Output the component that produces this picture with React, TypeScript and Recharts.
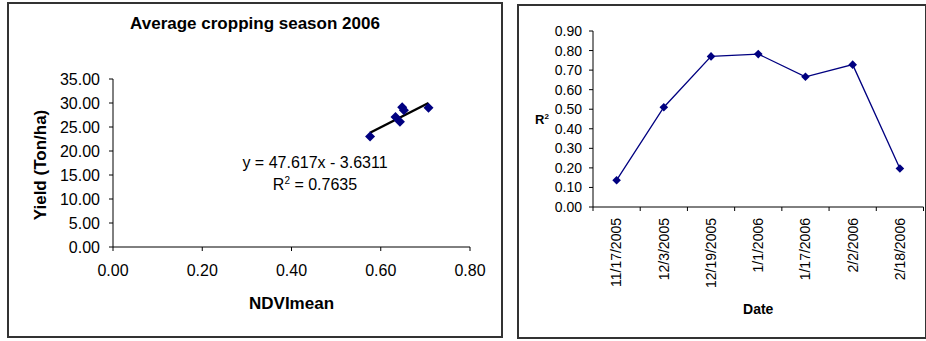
import { ScatterChart, Scatter, LineChart, Line, XAxis, YAxis, Label } from 'recharts';

// left panel: yield vs NDVI mean
const ndviMean = [0.576, 0.633, 0.643, 0.648, 0.652, 0.707];
const yieldTonHa = [23.0, 27.1, 26.1, 29.1, 28.5, 29.0];
const trendNdvi = [0.576, 0.707];
const trendYield = [23.8, 30.0];
const yieldTicks = [0, 5, 10, 15, 20, 25, 30, 35];
const ndviTicks = [0, 0.2, 0.4, 0.6, 0.8];

// right panel: R2 per image date
const dates = ['11/17/2005', '12/3/2005', '12/19/2005', '1/1/2006', '1/17/2006', '2/2/2006', '2/18/2006'];
const r2Values = [0.137, 0.51, 0.77, 0.782, 0.666, 0.728, 0.197];
const r2Ticks = [0, 0.1, 0.2, 0.3, 0.4, 0.5, 0.6, 0.7, 0.8, 0.9];

const NAVY = '#000080';
const FONT = "'Liberation Sans', Arial, sans-serif";

const scatterData = ndviMean.map((x, i) => ({ x, y: yieldTonHa[i] }));
const trendData = trendNdvi.map((x, i) => ({ x, y: trendYield[i] }));
const lineData = dates.map((date, i) => ({ slot: i + 0.5, date, r2: r2Values[i] }));
const slotBounds = dates.map((_, i) => i).concat(dates.length);

function diamond(cx: number, cy: number, r: number) {
  return `M${cx},${cy - r}L${cx + r},${cy}L${cx},${cy + r}L${cx - r},${cy}Z`;
}

function DateTick(props: any) {
  const { x, y, payload, width } = props;
  const idx = Math.round(payload.value);
  if (idx >= dates.length) return <g />;
  const w = typeof width === 'number' ? width : 330;
  const cx = x + w / (dates.length * 2);
  return (
    <text
      x={cx}
      y={y}
      dy="0.35em"
      textAnchor="end"
      fontSize={14}
      fill="#000"
      transform={`rotate(-90, ${cx}, ${y})`}
    >
      {dates[idx]}
    </text>
  );
}

const box = (left: number, top: number, width: number, height: number) => ({
  position: 'absolute' as const,
  left,
  top,
  width,
  height,
  boxSizing: 'border-box' as const,
  border: '2px solid #333',
});

export default function App() {
  return (
    <div
      style={{
        position: 'absolute',
        left: 0,
        top: 0,
        width: 926,
        height: 341,
        background: '#fff',
        fontFamily: FONT,
        color: '#000',
        overflow: 'hidden',
      }}
    >
      <div style={box(7, 2, 496, 336)} />
      <div style={box(517, 4, 410, 335)} />

      <div style={{ position: 'absolute', left: 0, top: 0 }}>
        <div style={{ position: 'absolute', left: 8, top: 3 }}>
          <ScatterChart width={494} height={334} margin={{ top: 76, right: 32, bottom: 0, left: 0 }}>
            <XAxis
              type="number"
              dataKey="x"
              domain={[0, 0.8]}
              ticks={ndviTicks}
              interval={0}
              tickFormatter={(v: number) => v.toFixed(2)}
              stroke="#000"
              tickSize={4}
              tickMargin={14}
              height={90}
              tick={{ fill: '#000', fontSize: 16 }}
            >
              <Label value="NDVImean" position="insideBottom" offset={28} fontSize={17} fontWeight="bold" fill="#000" />
            </XAxis>
            <YAxis
              type="number"
              dataKey="y"
              domain={[0, 35]}
              ticks={yieldTicks}
              interval={0}
              tickFormatter={(v: number) => v.toFixed(2)}
              stroke="#000"
              tickSize={4}
              tickMargin={9}
              width={105}
              tick={{ fill: '#000', fontSize: 16 }}
            >
              <Label
                content={() => (
                  <text
                    x={32}
                    y={162}
                    dy="0.35em"
                    textAnchor="middle"
                    fontSize={17}
                    fontWeight="bold"
                    fill="#000"
                    transform="rotate(-90, 32, 162)"
                  >
                    Yield (Ton/ha)
                  </text>
                )}
              />
            </YAxis>
            <Scatter
              data={trendData}
              line={{ stroke: '#000', strokeWidth: 2.5 }}
              shape={() => <g />}
              isAnimationActive={false}
            />
            <Scatter
              data={scatterData}
              shape={(p: any) => <path d={diamond(p.cx, p.cy, 5)} fill={NAVY} />}
              isAnimationActive={false}
            />
          </ScatterChart>
        </div>

        <div
          style={{
            position: 'absolute',
            left: 8,
            top: 14.5,
            width: 494,
            textAlign: 'center',
            fontSize: 17,
            lineHeight: '17px',
            fontWeight: 'bold',
          }}
        >
          Average cropping season 2006
        </div>
        <div style={{ position: 'absolute', left: 215, top: 154.5, width: 200, textAlign: 'center', fontSize: 16, lineHeight: '16px' }}>
          y = 47.617x - 3.6311
        </div>
        <div style={{ position: 'absolute', left: 215, top: 177, width: 200, textAlign: 'center', fontSize: 16, lineHeight: '16px' }}>
          R<span style={{ fontSize: 10, position: 'relative', top: -6 }}>2</span> = 0.7635
        </div>

        <div style={{ position: 'absolute', left: 517, top: 5 }}>
          <LineChart width={408} height={333} data={lineData} margin={{ top: 26, right: 1.5, bottom: 0, left: 0 }}>
            <XAxis
              type="number"
              dataKey="slot"
              domain={[0, dates.length]}
              ticks={slotBounds}
              interval={0}
              stroke="#000"
              tickSize={4}
              tickMargin={7}
              height={131}
              tick={DateTick}
            >
              <Label value="Date" position="insideBottom" offset={24} fontSize={14} fontWeight="bold" fill="#000" />
            </XAxis>
            <YAxis
              type="number"
              domain={[0, 0.9]}
              ticks={r2Ticks}
              interval={0}
              tickFormatter={(v: number) => v.toFixed(2)}
              stroke="#000"
              tickSize={4}
              tickMargin={7}
              width={76}
              tick={{ fill: '#000', fontSize: 14 }}
            >
              <Label
                content={() => (
                  <text x={25} y={114} dy="0.35em" textAnchor="middle" fontSize={13} fontWeight="bold" fill="#000">
                    R
                    <tspan fontSize={8} dy="-5">2</tspan>
                  </text>
                )}
              />
            </YAxis>
            <Line
              dataKey="r2"
              stroke={NAVY}
              strokeWidth={1.3}
              dot={(p: any) => <path key={p.index} d={diamond(p.cx, p.cy, 4.3)} fill={NAVY} />}
              activeDot={false}
              isAnimationActive={false}
            />
          </LineChart>
        </div>
      </div>
    </div>
  );
}
